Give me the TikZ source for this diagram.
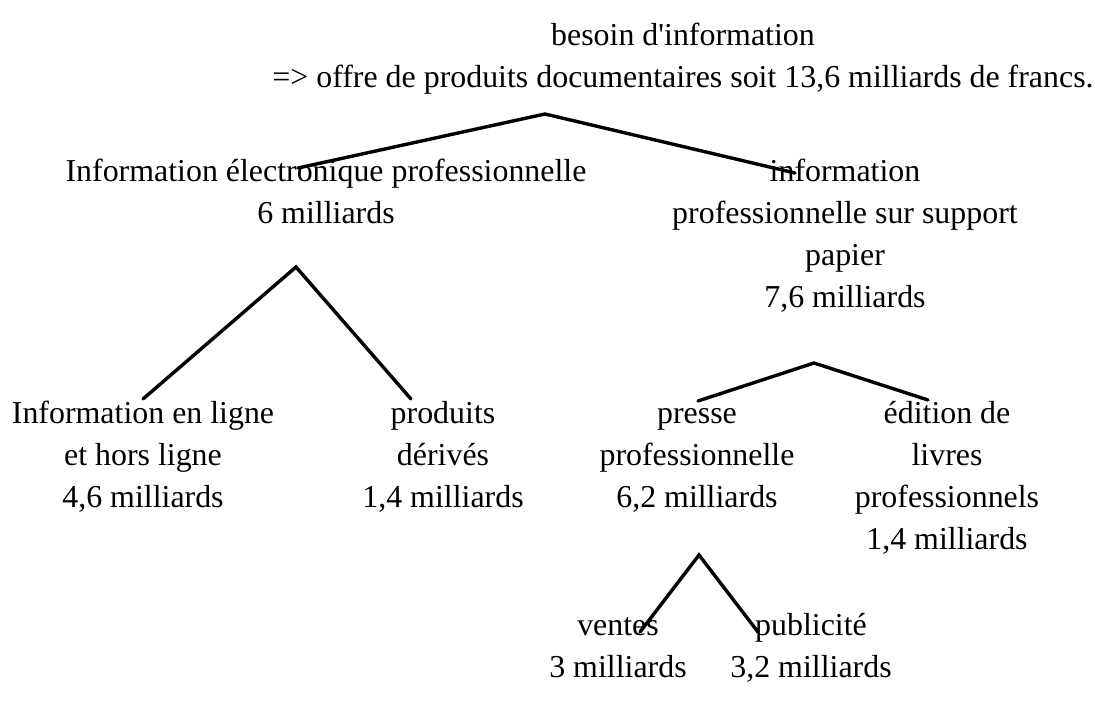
\documentclass[tikz,border=0pt]{standalone}
\usepackage{fontspec}
\setmainfont{Liberation Serif}
% fixed-height strut for the first line of every label
\newcommand{\firstline}{\rule{0pt}{30pt}}
\begin{document}
\begin{tikzpicture}[x=1pt,y=-1pt,
  lbl/.style={inner sep=0pt,align=center,anchor=north,
    font=\fontsize{31.9}{42}\selectfont},
  branch/.style={line width=3.4pt,line cap=round,line join=miter}]
\useasboundingbox[fill=white] (0,0) rectangle (1095,714);

% text blocks (placed by the top of their first line)
\node[lbl] (root) at (683,15) {\firstline besoin d\textquotesingle information\\=> offre de produits documentaires soit 13,6 milliards de francs.};
\node[lbl] (elec) at (326,151) {\firstline Information électronique professionnelle\\6 milliards};
\node[lbl] (pap) at (845,151) {\firstline information\\professionnelle sur support\\papier\\7,6 milliards};
\node[lbl] (enligne) at (143,393) {\firstline Information en ligne\\et hors ligne\\4,6 milliards};
\node[lbl] (derives) at (443,393) {\firstline produits\\dérivés\\1,4 milliards};
\node[lbl] (presse) at (697,393) {\firstline presse\\professionnelle\\6,2 milliards};
\node[lbl] (livres) at (947,393) {\firstline édition de\\livres\\professionnels\\1,4 milliards};
\node[lbl] (ventes) at (618,605) {\firstline ventes\\3 milliards};
\node[lbl] (pub) at (811,605) {\firstline publicité\\3,2 milliards};

% branch points and branch ends
\coordinate (a0) at (545,114);
\coordinate (e0l) at (298,168);
\coordinate (e0r) at (795,173);
\coordinate (a1) at (296,267);
\coordinate (e1l) at (143,399);
\coordinate (e1r) at (411,399);
\coordinate (a2) at (814,363);
\coordinate (e2l) at (698,401);
\coordinate (e2r) at (928,400);
\coordinate (a3) at (699,555);
\coordinate (e3l) at (640,632);
\coordinate (e3r) at (758,632);

\draw[branch] (e0l) -- (a0) -- (e0r);
\draw[branch] (e1l) -- (a1) -- (e1r);
\draw[branch] (e2l) -- (a2) -- (e2r);
\draw[branch] (e3l) -- (a3) -- (e3r);
\end{tikzpicture}
\end{document}
